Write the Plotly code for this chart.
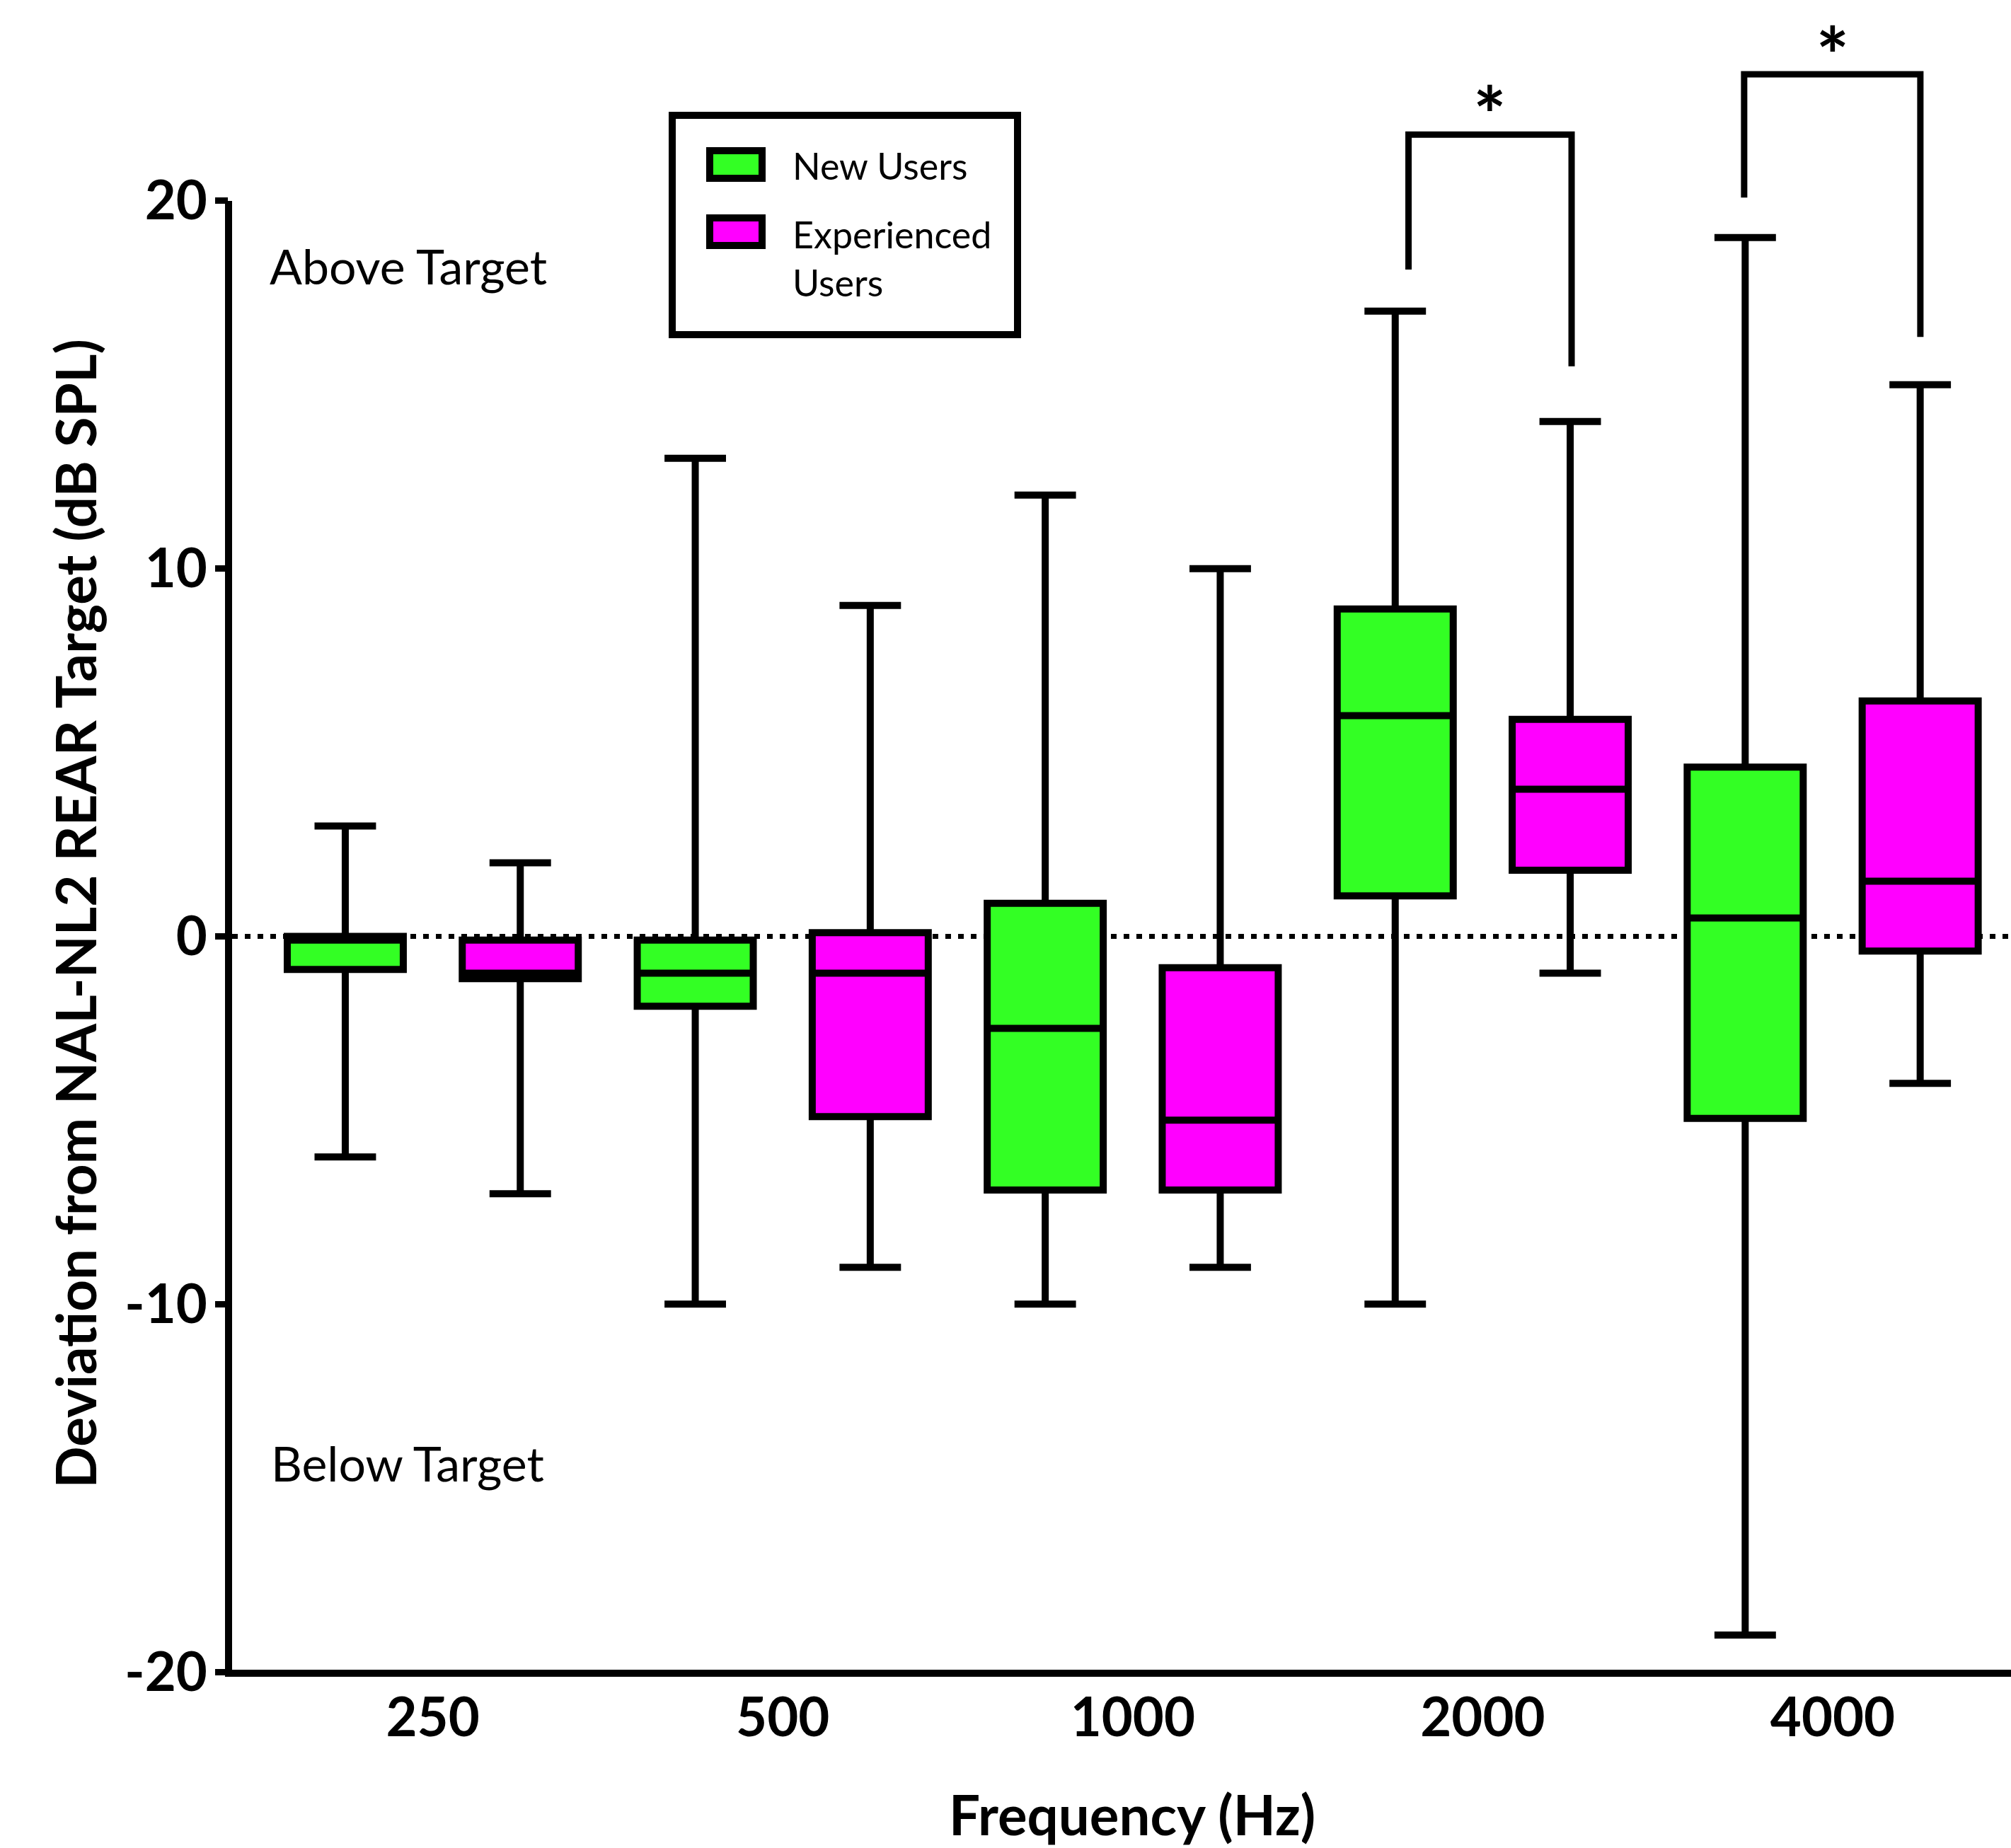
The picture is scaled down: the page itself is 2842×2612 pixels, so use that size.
import plotly.graph_objects as go

# ---------------- data ----------------
freq_labels = ["250", "500", "1000", "2000", "4000"]
group_centers = [0.5, 2.5, 4.5, 6.5, 8.5]
new_pos = [0, 2, 4, 6, 8]
exp_pos = [1, 3, 5, 7, 9]

new_min = [-6, -10, -10, -10, -19]
new_q1 = [-0.9, -1.9, -6.9, 1.1, -4.95]
new_med = [-0.1, -1.0, -2.5, 6.0, 0.5]
new_q3 = [0.0, -0.1, 0.9, 8.9, 4.6]
new_max = [3, 13, 12, 17, 19]

exp_min = [-7, -9, -9, -1, -4]
exp_q1 = [-1.15, -4.9, -6.9, 1.8, -0.4]
exp_med = [-1.0, -1.0, -5.0, 4.0, 1.5]
exp_q3 = [-0.1, 0.1, -0.85, 5.9, 6.4]
exp_max = [2, 9, 10, 14, 15]

bracket1_x = [6.076, 6.076, 7.008, 7.008]
bracket1_y = [18.13, 21.8, 21.8, 15.5]
bracket2_x = [7.994, 7.994, 9.001, 9.001]
bracket2_y = [20.09, 23.44, 23.44, 16.3]
star_x = [6.54, 8.5]
star_y = [22.76, 24.39]

y_tickvals = [-20, -10, 0, 10, 20]
y_ticktext = ["-20", "-10", "0", "10", "20"]

GREEN = "#33FF24"
MAGENTA = "#FF00FF"
FONT = "Lato"

# ---------------- geometry helpers (pixel -> paper) ----------------
W, H = 2842, 2612
ML, MR, MT, MB = 323, 0, 24, 249
PW, PH = W - ML - MR, H - MT - MB


def px(X):
    return (X - ML) / PW


def py(Y):
    return (H - MB - Y) / PH


fig = go.Figure()

box_common = dict(
    line=dict(color="black", width=10),
    whiskerwidth=0.53,
    width=0.663,
    boxpoints=False,
    hoverinfo="skip",
    showlegend=False,
)

fig.add_trace(go.Box(
    name="New Users", x=new_pos, q1=new_q1, median=new_med, q3=new_q3,
    lowerfence=new_min, upperfence=new_max, fillcolor=GREEN, **box_common))
fig.add_trace(go.Box(
    name="Experienced Users", x=exp_pos, q1=exp_q1, median=exp_med, q3=exp_q3,
    lowerfence=exp_min, upperfence=exp_max, fillcolor=MAGENTA, **box_common))

for bx, by in [(bracket1_x, bracket1_y), (bracket2_x, bracket2_y)]:
    fig.add_trace(go.Scatter(x=bx, y=by, mode="lines",
                             line=dict(color="black", width=9),
                             hoverinfo="skip", showlegend=False, cliponaxis=False))

# text glyph '*' sits high in its em box, so anchor slightly below the glyph centre
fig.add_trace(go.Scatter(x=star_x, y=[v - 0.68 for v in star_y], mode="text", text=["*", "*"],
                         textposition="middle center",
                         textfont=dict(family=FONT, size=110, color="black", weight=700),
                         hoverinfo="skip", showlegend=False, cliponaxis=False))

shapes = []
# zero reference line
shapes.append(dict(type="line", xref="paper", yref="y", x0=px(328), x1=1, y0=0, y1=0,
                   line=dict(color="black", width=7, dash="8px,10px"), layer="below"))
# axis lines
shapes.append(dict(type="line", xref="paper", yref="y", x0=0, x1=0, y0=-20, y1=20,
                   line=dict(color="black", width=10)))
shapes.append(dict(type="line", xref="paper", yref="paper", x0=px(318), x1=1,
                   y0=py(2365), y1=py(2365), line=dict(color="black", width=10)))
# legend box
shapes.append(dict(type="rect", xref="paper", yref="paper", x0=px(950), x1=px(1438),
                   y0=py(163), y1=py(473), line=dict(color="black", width=10),
                   fillcolor="rgba(0,0,0,0)"))
shapes.append(dict(type="rect", xref="paper", yref="paper", x0=px(1003), x1=px(1077),
                   y0=py(213), y1=py(252), line=dict(color="black", width=10),
                   fillcolor=GREEN))
shapes.append(dict(type="rect", xref="paper", yref="paper", x0=px(1003), x1=px(1077),
                   y0=py(308), y1=py(347), line=dict(color="black", width=10),
                   fillcolor=MAGENTA))

annotations = [
    dict(text="New Users", x=px(1118), y=py(233.5), xanchor="left", yanchor="middle",
         font=dict(family=FONT, size=52, color="black")),
    dict(text="Experienced<br>Users", x=px(1118), y=py(365), xanchor="left", yanchor="middle",
         align="left", font=dict(family=FONT, size=52, color="black")),
    dict(text="Above Target", x=px(379), y=py(375.5), xanchor="left", yanchor="middle",
         font=dict(family=FONT, size=68, color="black")),
    dict(text="Below Target", x=px(381), y=py(2067), xanchor="left", yanchor="middle",
         font=dict(family=FONT, size=68, color="black")),
    dict(text="Deviation from NAL-NL2 REAR Target (dB SPL)", x=px(105.5), y=py(1292),
         xanchor="center", yanchor="middle", textangle=-90,
         font=dict(family=FONT, size=78, color="black", weight=700)),
    dict(text="Frequency (Hz)", x=px(1600), y=py(2564), xanchor="center", yanchor="middle",
         font=dict(family=FONT, size=78, color="black", weight=700)),
]
for a in annotations:
    a.update(xref="paper", yref="paper", showarrow=False)

fig.update_layout(
    width=W, height=H,
    margin=dict(l=ML, r=MR, t=MT, b=MB, pad=0),
    paper_bgcolor="white", plot_bgcolor="white",
    shapes=shapes, annotations=annotations,
    showlegend=False,
    xaxis=dict(range=[-0.667, 9.519], tickvals=group_centers, ticktext=freq_labels,
               showline=False, showgrid=False, zeroline=False, ticks="",
               ticklabelstandoff=14,
               tickfont=dict(family=FONT, size=76, color="black", weight=700),
               automargin=False, fixedrange=True),
    yaxis=dict(range=[-20, 25], tickvals=y_tickvals, ticktext=y_ticktext,
               showline=False, showgrid=False, zeroline=False,
               ticks="outside", ticklen=18, tickwidth=9, tickcolor="black",
               ticklabelstandoff=-4,
               tickfont=dict(family=FONT, size=76, color="black", weight=700),
               automargin=False, fixedrange=True),
)

fig.write_html("out.html")
